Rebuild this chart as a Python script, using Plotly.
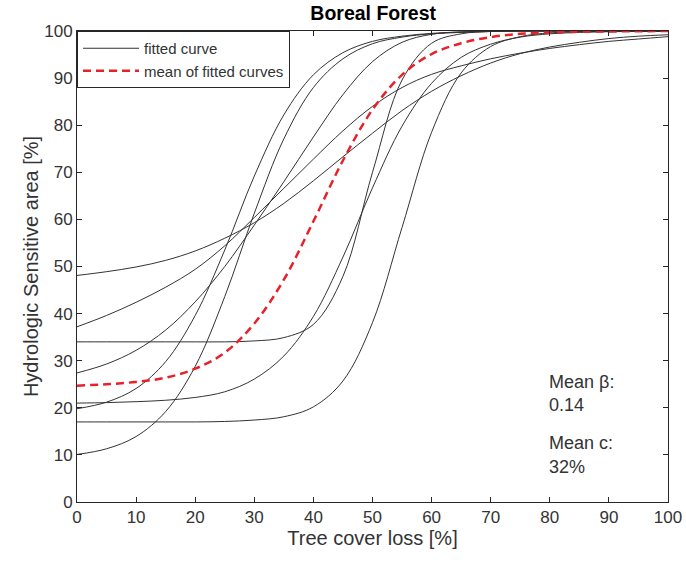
import plotly.graph_objects as go

# Tree cover loss [%] sample positions
x_loss = [0, 5, 10, 15, 20, 25, 30, 35, 40, 45, 50, 55, 60, 65, 70, 75, 80, 85, 90, 95, 100]

# Fitted curves (Hydrologic Sensitive area [%])
curve_1 = [48.1, 48.9, 49.9, 51.3, 53.3, 56.0, 59.3, 63.4, 68.2, 73.3, 78.3, 83.1, 87.2, 90.5, 93.2, 95.2, 96.6, 97.6, 98.4, 98.9, 99.2]
curve_2 = [37.2, 39.6, 42.4, 45.6, 49.4, 54.4, 60.4, 66.6, 72.8, 78.8, 84.0, 88.0, 90.8, 92.6, 94.1, 95.3, 96.3, 97.1, 97.8, 98.3, 98.8]
curve_3 = [34.0, 34.0, 34.0, 34.0, 34.0, 34.0, 34.2, 34.9, 37.7, 47.9, 70.0, 89.6, 97.4, 99.4, 99.9, 100, 100, 100, 100, 100, 100]
curve_4 = [27.4, 29.3, 32.2, 36.5, 42.5, 50.0, 58.8, 68.0, 77.5, 86.5, 93.5, 97.6, 99.3, 99.8, 100, 100, 100, 100, 100, 100, 100]
curve_5 = [21.0, 21.1, 21.3, 21.6, 22.2, 23.4, 26.1, 31.0, 39.4, 52.0, 66.7, 79.8, 88.9, 94.4, 97.2, 98.7, 99.4, 99.7, 99.85, 99.93, 99.97]
curve_6 = [19.8, 21.2, 24.1, 29.8, 39.6, 53.5, 69.2, 82.2, 90.7, 95.4, 97.8, 98.9, 99.5, 99.8, 99.9, 100, 100, 100, 100, 100, 100]
curve_7 = [17.0, 17.0, 17.0, 17.0, 17.0, 17.1, 17.4, 18.1, 20.2, 25.7, 38.1, 58.3, 78.5, 91.1, 96.7, 98.8, 99.6, 99.85, 100, 100, 100]
curve_8 = [10.1, 11.3, 13.9, 19.2, 28.8, 43.6, 61.3, 77.1, 88.0, 94.1, 97.3, 98.7, 99.4, 99.7, 99.9, 100, 100, 100, 100, 100, 100]

# Mean of fitted curves
mean_curve = [24.7, 25.0, 25.5, 26.4, 28.3, 31.7, 37.9, 47.2, 59.6, 72.5, 83.3, 90.7, 95.1, 97.4, 98.7, 99.4, 99.7, 99.85, 99.9, 99.95, 100]

fitted_curves = [curve_1, curve_2, curve_3, curve_4, curve_5, curve_6, curve_7, curve_8]

ticks = list(range(0, 101, 10))
FONT = "Liberation Sans, Arial, Helvetica, sans-serif"
AX = "#262626"
TXT = "#333333"

fig = go.Figure()
for i, c in enumerate(fitted_curves):
    fig.add_trace(go.Scatter(
        x=x_loss, y=c, mode="lines",
        line=dict(color="#333333", width=1, shape="spline", smoothing=1.0),
        name="fitted curve", showlegend=(i == 0), legendrank=1,
    ))
fig.add_trace(go.Scatter(
    x=x_loss, y=mean_curve, mode="lines",
    line=dict(color="#e8202a", width=2.5, dash="8px,5px", shape="spline", smoothing=1.0),
    name="mean of fitted curves", legendrank=2,
))

axis_common = dict(
    range=[0, 100], tickvals=ticks, ticktext=[str(t) for t in ticks],
    ticks="inside", ticklen=5, tickwidth=1, tickcolor=AX,
    showline=True, linecolor=AX, linewidth=1, mirror="allticks",
    showgrid=False, zeroline=False, automargin=False,
    tickfont=dict(family=FONT, size=17, color=TXT),
)

fig.update_layout(
    width=686, height=563,
    margin=dict(l=77, r=18, t=31, b=61),
    plot_bgcolor="white", paper_bgcolor="white",
    font=dict(family=FONT, color=AX),
    title=dict(text="<b>Boreal Forest</b>", x=0.544, xanchor="center",
               y=1 - 13 / 563, yanchor="middle",
               font=dict(family=FONT, size=19.5, color="black")),
    xaxis=dict(**axis_common, title=dict(text="Tree cover loss [%]", standoff=2,
                                         font=dict(family=FONT, size=20, color=TXT))),
    yaxis=dict(**axis_common, title=dict(text="Hydrologic Sensitive area [%]", standoff=0,
                                         font=dict(family=FONT, size=20, color=TXT))),
    legend=dict(x=0, y=1, xanchor="left", yanchor="top",
                bgcolor="white", bordercolor=AX, borderwidth=1,
                font=dict(family=FONT, size=15, color=TXT),
                itemwidth=56, tracegroupgap=0),
    showlegend=True,
)

notes = [("Mean β:", 25.5), ("0.14", 20.6), ("Mean c:", 12.5), ("32%", 7.4)]
for txt, yv in notes:
    fig.add_annotation(x=79.6, y=yv, xref="x", yref="y", text=txt, showarrow=False,
                       xanchor="left", yanchor="middle",
                       font=dict(family=FONT, size=18, color=TXT))

fig.write_html("out.html")
